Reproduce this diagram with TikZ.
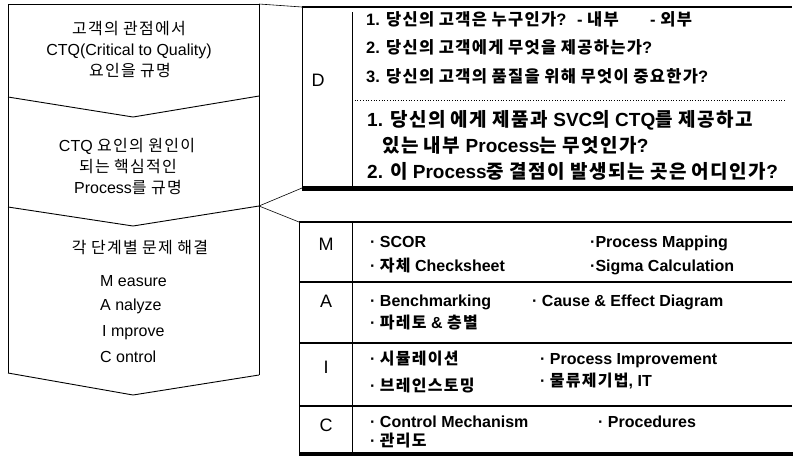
\documentclass[tikz,border=0pt]{standalone}
\usepackage{fontspec}
\setmainfont{Liberation Sans}
\newfontfamily\krfamily{Noto Sans CJK KR}[Scale=1.0,LetterSpace=8]
\newfontfamily\lafamily{Liberation Sans}
% Hangul syllables switch to the CJK family, everything else stays in Liberation Sans
\XeTeXinterchartokenstate=1
\newXeTeXintercharclass\hangulcls
\newcount\hgc
\hgc="AC00
\loop
  \XeTeXcharclass\hgc=\hangulcls
  \ifnum\hgc<"D7A3 \advance\hgc by 1 \repeat
\XeTeXinterchartoks 0 \hangulcls = {\krfamily}
\XeTeXinterchartoks 4095 \hangulcls = {\krfamily}
\XeTeXinterchartoks \hangulcls 0 = {\lafamily}
\XeTeXinterchartoks \hangulcls 4095 = {\lafamily}

\begin{document}
\begin{tikzpicture}[x=1pt,y=-1pt,
  frameline/.style={line width=0.9pt},
  linkline/.style={line width=0.6pt},
  rowline/.style={line width=1.1pt},
  heavyline/.style={line width=5pt},
  lefttxt/.style={font=\fontsize{16}{19}\selectfont, inner sep=0pt, anchor=base},
  phasetxt/.style={font=\fontsize{16}{19}\selectfont, inner sep=0pt, anchor=base west},
  dquest/.style={font=\bfseries\fontsize{16.5}{19}\selectfont, inner sep=0pt, anchor=base west},
  dbig/.style={font=\bfseries\fontsize{19}{22}\selectfont, inner sep=0pt, anchor=base west},
  itemtxt/.style={font=\bfseries\fontsize{16}{19}\selectfont, inner sep=0pt, anchor=base west},
  rowtag/.style={font=\fontsize{18}{21}\selectfont, inner sep=0pt}]
\useasboundingbox (0,0) rectangle (794,459);
\fill[white] (0,0) rectangle (794,459);

% ---- left column: three stacked chevrons
\coordinate (tl) at (8,4);
\coordinate (tr) at (259,4);
\coordinate (v1l) at (8,97);   \coordinate (v1m) at (133,117); \coordinate (v1r) at (259,96);
\coordinate (v2l) at (8,207);  \coordinate (v2m) at (133,226); \coordinate (v2r) at (259,206);
\coordinate (v3l) at (8,373);  \coordinate (v3m) at (133,395); \coordinate (v3r) at (259,375);
\draw[frameline] (v3l) -- (tl) -- (tr) -- (v3r);
\draw[frameline] (v1l) -- (v1m) -- (v1r);
\draw[frameline] (v2l) -- (v2m) -- (v2r);
\draw[frameline] (v3l) -- (v3m) -- (v3r);

\node[lefttxt] (a1) at (129,34) {고객의 관점에서};
\node[lefttxt] (a2) at (129,55) {CTQ(Critical to Quality)};
\node[lefttxt] (a3) at (130,76) {요인을 규명};

\node[lefttxt] (b1) at (127,151) {CTQ 요인의 원인이};
\node[lefttxt] (b2) at (128,172) {되는 핵심적인};
\node[lefttxt] (b3) at (128,193) {Process를 규명};

\node[lefttxt] (c0) at (140,253) {각 단계별 문제 해결};
\node[phasetxt] (cm) at (100,286) {M easure};
\node[phasetxt] (ca) at (100,310) {A nalyze};
\node[phasetxt] (ci) at (102,336) {I mprove};
\node[phasetxt] (cc) at (100,362) {C ontrol};

% ---- Define panel
\coordinate (dtl) at (302,7);   \coordinate (dtr) at (792,7);
\coordinate (dbl) at (302,188); \coordinate (dbr) at (793,188);
\coordinate (ddt) at (352,12);  \coordinate (ddb) at (352,188);
\coordinate (dsl) at (352,100); \coordinate (dsr) at (785,100);
\draw[line width=1.6pt] (dtl) -- (dtr);
\draw[frameline] (dtl) -- (dbl);
\draw[frameline] (ddt) -- (ddb);
\draw[line width=0.7pt, dotted] (dsl) -- (dsr);
\draw[heavyline] (dbl) -- (dbr);

\node[rowtag] (dtag) at (318,80) {D};
\node[dquest] (q1) at (366,25) {1. 당신의 고객은 누구인가? \ - 내부};
\node[dquest] (q1b) at (650,25) {- 외부};
\node[dquest] (q2) at (366,53) {2. 당신의 고객에게 무엇을 제공하는가?};
\node[dquest] (q3) at (366,82) {3. 당신의 고객의 품질을 위해 무엇이 중요한가?};
\node[dbig] (p1) at (367,126) {1. 당신의 에게 제품과 SVC의 CTQ를 제공하고};
\node[dbig] (p2) at (382,152) {있는 내부 Process는 무엇인가?};
\node[dbig] (p3) at (367,178) {2. 이 Process중 결점이 발생되는 곳은 어디인가?};

% ---- MAIC panel
\coordinate (mtl) at (299,222); \coordinate (mtr) at (792,222);
\coordinate (mbl) at (299,454); \coordinate (mbr) at (793,454);
\coordinate (mdt) at (352,222); \coordinate (mdb) at (352,454);
\draw[line width=1.4pt] (mtl) -- (mtr);
\draw[frameline] (mtl) -- (mbl);
\draw[frameline] (mdt) -- (mdb);
\foreach \yy in {282,343,406}
  \draw[rowline] (299,\yy) -- (792,\yy);
\draw[line width=3.5pt] (mbl) -- (mbr);

\node[rowtag] (tm) at (326,244) {M};
\node[rowtag] (ta) at (326,301) {A};
\node[rowtag] (ti) at (326,367) {I};
\node[rowtag] (tc) at (326,425) {C};

\node[itemtxt] (m1) at (370,247) {· SCOR};
\node[itemtxt] (m2) at (370,271) {· 자체 Checksheet};
\node[itemtxt] (m3) at (590,247) {·Process Mapping};
\node[itemtxt] (m4) at (590,271) {·Sigma Calculation};

\node[itemtxt] (n1) at (370,306) {· Benchmarking};
\node[itemtxt] (n2) at (370,328) {· 파레토 \& 층별};
\node[itemtxt] (n3) at (532,306) {· Cause \& Effect Diagram};

\node[itemtxt] (i1) at (370,364) {· 시뮬레이션};
\node[itemtxt] (i2) at (370,391) {· 브레인스토밍};
\node[itemtxt] (i3) at (540,364) {· Process Improvement};
\node[itemtxt] (i4) at (540,386) {· 물류제기법, IT};

\node[itemtxt] (k1) at (370,427) {· Control Mechanism};
\node[itemtxt] (k2) at (370,446) {· 관리도};
\node[itemtxt] (k3) at (598,427) {· Procedures};

% ---- connectors from the chevrons to the panels
\draw[linkline] (tr) -- (dtl);
\draw[linkline] (v2r) -- (dbl);
\draw[linkline] (v2r) -- (mtl);
\end{tikzpicture}
\end{document}
